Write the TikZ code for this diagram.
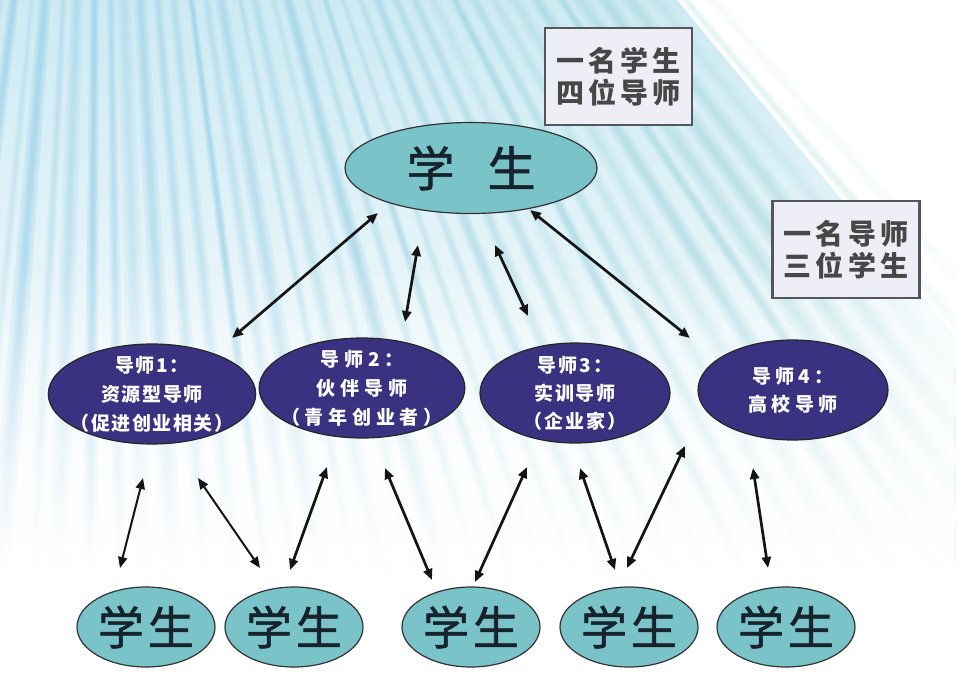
\documentclass[tikz,border=0pt]{standalone}
\usepackage{fontspec}
\newfontfamily\cjk{Noto Sans CJK SC}
\newfontfamily\cjkm[FakeBold=1.2]{Noto Sans CJK SC}
\usetikzlibrary{shapes.geometric,arrows.meta,fadings}
\tikzfading[name=fadeup, top color=transparent!100, bottom color=transparent!0]
\tikzfading[name=faderight, left color=transparent!100, right color=transparent!0]
\definecolor{stufill}{RGB}{122,196,201}
\definecolor{menfill}{RGB}{58,50,128}
\definecolor{boxfill}{RGB}{238,238,246}
\definecolor{boxline}{RGB}{85,85,92}
\definecolor{rayblue}{RGB}{128,196,230}
\definecolor{rayteal}{RGB}{150,212,212}
\definecolor{skytop}{RGB}{205,234,243}
\definecolor{stutext}{RGB}{22,34,44}
\begin{document}
\begin{tikzpicture}[x=1pt,y=-1pt,
  stu/.style={ellipse, draw=black!80, line width=1.2pt, fill=stufill, inner sep=0pt, text=stutext},
  bigstu/.style={stu, minimum width=252pt, minimum height=91pt, font=\cjkm\fontsize{48}{50}\selectfont},
  smallstu/.style={stu, minimum width=138pt, minimum height=80pt, font=\cjkm\fontsize{46}{48}\selectfont},
  men/.style={ellipse, draw=black!85, line width=1.2pt, fill=menfill, inner sep=-8pt, text=white, align=center, minimum width=186pt, minimum height=100pt},
  note/.style={rectangle, draw=boxline, line width=2.4pt, fill=boxfill, minimum width=147pt, minimum height=97pt, align=center, text=black!72, font=\cjk\bfseries\fontsize{28}{32}\selectfont\addfontfeature{LetterSpace=15}},
  link/.style={{Triangle[length=11pt,width=9pt]}-{Triangle[length=11pt,width=9pt]}, line width=2.7pt, black!92},
  thinlink/.style={link, line width=2pt}
]
\useasboundingbox (0,0) rectangle (956,680);
% background
\begin{scope}
\clip (0,0) rectangle (956,680);
\fill[white] (0,0) rectangle (956,680);
\begin{scope}
\clip (100,-700) -- +(50.5:2200) -- +(110:2200) -- cycle;
\shade[top color=skytop, bottom color=white] (0,0) rectangle (956,560);
\end{scope}
\pgfmathsetseed{42}
\foreach \i in {0,...,40}{
  \pgfmathsetmacro\a{48.5+\i*1.3}
  \pgfmathsetmacro\w{0.5+0.6*rnd}
  \pgfmathsetmacro\o{(0.07+0.14*rnd)*min(1,(\i+1)/5)}
  \pgfmathsetmacro\t{min(100,\i*3.5)}
  \pgfmathsetmacro\b{\a+\w}
  \pgfmathsetmacro\c{\a+0.2*\w}
  \pgfmathsetmacro\d{\a+0.8*\w}
  \pgfmathsetmacro\e{\a+0.35*\w}
  \pgfmathsetmacro\f{\a+0.65*\w}
  \colorlet{rc}{rayblue!\t!rayteal}
  \fill[rc, opacity=\o] (100,-700) -- +(\a:2200) -- +(\b:2200) -- cycle;
  \fill[rc, opacity=\o] (100,-700) -- +(\c:2200) -- +(\d:2200) -- cycle;
  \fill[rc, opacity=\o] (100,-700) -- +(\e:2200) -- +(\f:2200) -- cycle;
}
\fill[white, path fading=fadeup] (0,250) rectangle (956,575);
\fill[white] (0,574) rectangle (956,680);
\fill[white, opacity=0.6, path fading=faderight] (760,250) rectangle (956,680);
\end{scope}

% notes
\node[note] (n1) at (618.5,76.5) {一名学生\\四位导师};
\node[note] (n2) at (846,249.5) {一名导师\\三位学生};

% top student
\node[bigstu] (top) at (471,168) {学\hspace{33pt}生};

% mentors
\node[men, font=\cjk\bfseries\fontsize{19}{29}\selectfont\addfontfeature{LetterSpace=8}] (m1) at (152,394) {导师1：\\资源型导师\\（促进创业相关）};
\node[men, font=\cjk\bfseries\fontsize{19}{29}\selectfont\addfontfeature{LetterSpace=25}] (m2) at (362,388) {导师2：\\伙伴导师\\（青年创业者）};
\node[men, minimum width=190pt, font=\cjk\bfseries\fontsize{19}{28}\selectfont\addfontfeature{LetterSpace=10}] (m3) at (575,393) {导师3：\\实训导师\\（企业家）};
\node[men, minimum width=190pt, font=\cjk\bfseries\fontsize{19}{28}\selectfont\addfontfeature{LetterSpace=22}] (m4) at (793,390) {导师4：\\高校导师};

% bottom students
\node[smallstu] (s1) at (146,627) {学\hspace{4pt}生};
\node[smallstu] (s2) at (294,627) {学\hspace{4pt}生};
\node[smallstu] (s3) at (471,627) {学\hspace{4pt}生};
\node[smallstu] (s4) at (629,627) {学\hspace{4pt}生};
\node[smallstu] (s5) at (786,627) {学\hspace{4pt}生};

% connector ends
\coordinate (a1s) at (378,213); \coordinate (a1e) at (232,338);
\coordinate (a2s) at (418,245); \coordinate (a2e) at (405,322);
\coordinate (a3s) at (495,245); \coordinate (a3e) at (528,316);
\coordinate (a4s) at (530,210); \coordinate (a4e) at (690,338);
\coordinate (b1s) at (143,478); \coordinate (b1e) at (120,568);
\coordinate (b2s) at (198,478); \coordinate (b2e) at (260,568);
\coordinate (b3s) at (327,467); \coordinate (b3e) at (290,570);
\coordinate (b4s) at (385,468); \coordinate (b4e) at (432,580);
\coordinate (b5s) at (527,467); \coordinate (b5e) at (475,582);
\coordinate (b6s) at (580,468); \coordinate (b6e) at (615,570);
\coordinate (b7s) at (685,446); \coordinate (b7e) at (627,568);
\coordinate (b8s) at (753,468); \coordinate (b8e) at (768,568);

\draw[link] (a1s) -- (a1e);
\draw[link] (a2s) -- (a2e);
\draw[link] (a3s) -- (a3e);
\draw[link] (a4s) -- (a4e);
\draw[thinlink] (b1s) -- (b1e);
\draw[thinlink] (b2s) -- (b2e);
\draw[link] (b3s) -- (b3e);
\draw[link] (b4s) -- (b4e);
\draw[link] (b5s) -- (b5e);
\draw[link] (b6s) -- (b6e);
\draw[link] (b7s) -- (b7e);
\draw[link] (b8s) -- (b8e);
\end{tikzpicture}
\end{document}
